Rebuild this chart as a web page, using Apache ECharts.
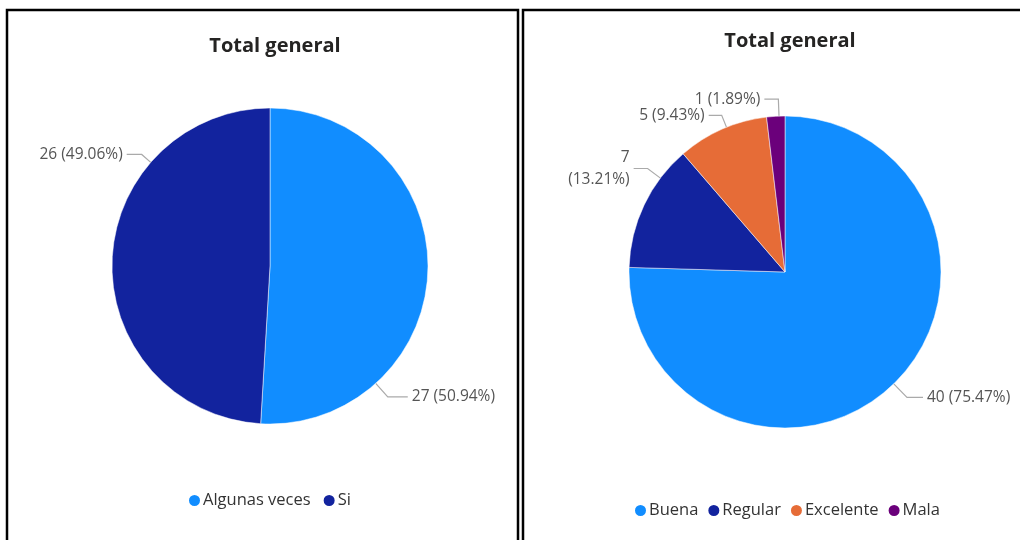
<!DOCTYPE html>
<html>
<head>
<meta charset="utf-8">
<script src="https://cdn.jsdelivr.net/npm/echarts@6/dist/echarts.min.js"></script>
<style>
html,body{margin:0;padding:0;background:#fff;}
#chart{width:1020px;height:540px;}
</style>
</head>
<body>
<div id="chart"></div>
<script>
// ---- data ----
const titleText = 'Total general';
const leftCategories = ['Algunas veces', 'Si'];
const leftValues = [27, 26];
const rightCategories = ['Buena', 'Regular', 'Excelente', 'Mala'];
const rightValues = [40, 7, 5, 1];

// ---- styling / layout ----
const leftColors = ['#118DFF', '#12239E'];
const rightColors = ['#118DFF', '#12239E', '#E66C37', '#6B007B'];
const FONT = '"Open Sans", "Noto Sans", sans-serif';
const pies = [
  { center: [270, 266], radius: 158, labelAngles: [138, 311], len1: [18, 12], len2: [20, 15], wrap: [false, false] },
  { center: [785, 272], radius: 156, labelAngles: [135.8, 307, 338, 357.8], len1: [19, 16, 13, 17], len2: [16, 14, 13, 14], wrap: [false, true, false, false] }
];

function labelLayoutFor(pi) {
  const p = pies[pi];
  return function (params) {
    const i = params.dataIndex;
    const a = p.labelAngles[i] * Math.PI / 180;
    const s = Math.sin(a), c = Math.cos(a);
    const cx = p.center[0], cy = p.center[1];
    const p0 = [cx + p.radius * s, cy - p.radius * c];
    const p1 = [cx + (p.radius + p.len1[i]) * s, cy - (p.radius + p.len1[i]) * c];
    const right = s >= 0;
    const p2 = [p1[0] + (right ? p.len2[i] : -p.len2[i]), p1[1]];
    return {
      x: p2[0] + (right ? 4 : -4),
      y: p2[1],
      align: right ? 'left' : 'right',
      verticalAlign: 'middle',
      labelLinePoints: [p0, p1, p2]
    };
  };
}

function makeData(cats, vals, colors, wrap) {
  return cats.map((n, i) => ({
    name: n,
    value: vals[i],
    itemStyle: { color: colors[i] },
    label: {
      formatter: p => p.value + (wrap[i] ? '\n' : ' ') + '(' + p.percent.toFixed(2) + '%)'
    }
  }));
}

const chart = echarts.init(document.getElementById('chart'), null, { renderer: 'canvas' });

const commonLabel = {
  show: true,
  position: 'outside',
  color: '#555555',
  fontFamily: FONT,
  fontSize: 15.5,
  lineHeight: 22,
  align: 'right'
};

const legendText = { fontFamily: FONT, fontSize: 16.5, color: '#333333', padding: [0, 0, 0, -3] };

chart.setOption({
  animation: false,
  backgroundColor: '#ffffff',
  title: [
    { text: titleText, left: 270, top: 31, textAlign: 'center',
      textStyle: { fontFamily: FONT, fontWeight: 'bold', fontSize: 20, color: '#252423' } },
    { text: titleText, left: 785, top: 26, textAlign: 'center',
      textStyle: { fontFamily: FONT, fontWeight: 'bold', fontSize: 20, color: '#252423' } }
  ],
  legend: [
    { data: leftCategories, top: 487, left: 182, orient: 'horizontal',
      icon: 'circle', itemWidth: 13, itemHeight: 13, itemGap: 11,
      textStyle: legendText, selectedMode: false },
    { data: rightCategories, top: 497, left: 628, orient: 'horizontal',
      icon: 'circle', itemWidth: 13, itemHeight: 13, itemGap: 8,
      textStyle: legendText, selectedMode: false }
  ],
  graphic: [
    { type: 'rect', shape: { x: 7, y: 10, width: 511, height: 560 },
      style: { fill: null, stroke: '#000', lineWidth: 2.5 }, silent: true },
    { type: 'rect', shape: { x: 523, y: 10, width: 520, height: 560 },
      style: { fill: null, stroke: '#000', lineWidth: 2.5 }, silent: true }
  ],
  series: [
    {
      type: 'pie',
      center: pies[0].center,
      radius: pies[0].radius,
      startAngle: 90,
      clockwise: true,
      avoidLabelOverlap: false,
      data: makeData(leftCategories, leftValues, leftColors, pies[0].wrap),
      itemStyle: { borderColor: '#ffffff', borderWidth: 0.5 },
      label: commonLabel,
      labelLine: { show: true, lineStyle: { color: '#aaaaaa', width: 1.2 } },
      labelLayout: labelLayoutFor(0),
      emphasis: { disabled: true }
    },
    {
      type: 'pie',
      center: pies[1].center,
      radius: pies[1].radius,
      startAngle: 90,
      clockwise: true,
      avoidLabelOverlap: false,
      data: makeData(rightCategories, rightValues, rightColors, pies[1].wrap),
      itemStyle: { borderColor: '#ffffff', borderWidth: 0.5 },
      label: commonLabel,
      labelLine: { show: true, lineStyle: { color: '#aaaaaa', width: 1.2 } },
      labelLayout: labelLayoutFor(1),
      emphasis: { disabled: true }
    }
  ]
});
</script>
</body>
</html>
